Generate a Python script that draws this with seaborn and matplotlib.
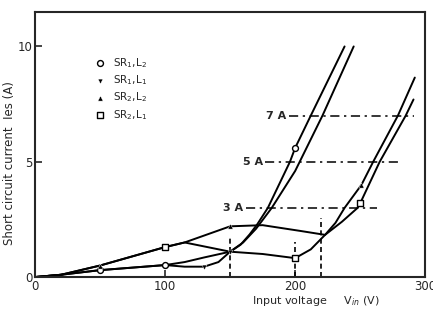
import numpy as np
import pandas as pd
import matplotlib
matplotlib.use("Agg")
import matplotlib.pyplot as plt
import seaborn as sns

# curve data (V, A)
sr2_upper_v = [0, 20, 50, 100, 115, 150, 175, 204, 223, 231, 238, 251, 260, 279, 292]
sr2_upper_i = [0, 0.1, 0.5, 1.3, 1.5, 2.2, 2.25, 2.0, 1.83, 2.35, 3.0, 4.0, 5.0, 7.0, 8.65]
sr2_lower_v = [0, 20, 50, 100, 115, 130, 150, 175, 200, 212, 223, 236, 248, 250, 265, 285, 291]
sr2_lower_i = [0, 0.1, 0.3, 0.52, 0.65, 0.85, 1.1, 1.0, 0.82, 1.2, 1.83, 2.4, 3.0, 3.2, 5.0, 7.0, 7.7]
sr1_upper_v = [0, 20, 50, 100, 115, 150, 158, 165, 171, 179, 196, 200, 212, 238]
sr1_upper_i = [0, 0.1, 0.5, 1.3, 1.5, 1.1, 1.4, 1.85, 2.3, 3.0, 5.0, 5.6, 7.0, 10.0]
sr1_lower_v = [0, 20, 50, 100, 115, 130, 141, 150, 160, 170, 182, 200, 221, 245]
sr1_lower_i = [0, 0.1, 0.3, 0.52, 0.45, 0.45, 0.65, 1.1, 1.5, 2.1, 3.0, 4.6, 7.0, 10.0]

# measured points (markers)
m_sr1l2_v = [50, 100, 200]
m_sr1l2_i = [0.3, 0.52, 5.6]
m_sr1l1_v = [130, 150]
m_sr1l1_i = [0.45, 1.1]
m_sr2l2_v = [50, 150, 251]
m_sr2l2_i = [0.5, 2.2, 4.0]
m_sr2l1_v = [100, 200, 250]
m_sr2l1_i = [1.3, 0.82, 3.2]

# limit lines
limit_labels = ["3 A", "5 A", "7 A"]
limit_i = [3, 5, 7]
limit_v0 = [162, 177, 195]
limit_v1 = [263, 281, 291]
vline_v = [150, 200, 220]
vline_top = [1.8, 1.5, 2.56]

sns.set_style("ticks")
plt.rcParams["font.family"] = ["DejaVu Sans"]

fig = plt.figure(figsize=(4.33, 3.12), dpi=100)
ax = fig.add_axes([0.081, 0.112, 0.901, 0.85])

for vv, ii in [(sr2_upper_v, sr2_upper_i), (sr2_lower_v, sr2_lower_i),
               (sr1_upper_v, sr1_upper_i), (sr1_lower_v, sr1_lower_i)]:
    sns.lineplot(x=vv, y=ii, sort=False, color="black", lw=1.4, ax=ax)

sns.scatterplot(x=m_sr1l2_v, y=m_sr1l2_i, marker="o", s=18, facecolor="white",
                edgecolor="black", linewidth=1, ax=ax, label="SR$_1$,L$_2$", zorder=5)
sns.scatterplot(x=m_sr1l1_v, y=m_sr1l1_i, marker="v", s=12, color="black",
                ax=ax, label="SR$_1$,L$_1$", zorder=5)
sns.scatterplot(x=m_sr2l2_v, y=m_sr2l2_i, marker="^", s=14, color="black",
                ax=ax, label="SR$_2$,L$_2$", zorder=5)
sns.scatterplot(x=m_sr2l1_v, y=m_sr2l1_i, marker="s", s=14, facecolor="white",
                edgecolor="black", linewidth=1, ax=ax, label="SR$_2$,L$_1$", zorder=5)

for lab, yi, a, b in zip(limit_labels, limit_i, limit_v0, limit_v1):
    ax.plot([a, b], [yi, yi], color="black", lw=1.1, ls=(0, (6, 3, 1.5, 3)))
    ax.text(a - 2, yi, lab, ha="right", va="center", fontsize=8, fontweight="bold")

for xv, top in zip(vline_v, vline_top):
    ax.plot([xv, xv], [0, top], color="black", lw=1.2, ls=(0, (3, 2)))

ax.set_xlim(0, 300)
ax.set_ylim(0, 11.5)
ax.set_xticks([0, 100, 200, 300])
ax.set_yticks([0, 5, 10])
ax.tick_params(direction="in", length=5, width=1.2, labelsize=8.5, pad=2)
for sp in ax.spines.values():
    sp.set_linewidth(1.5)
    sp.set_visible(True)

ax.set_ylabel("Short circuit current  Ies (A)", fontsize=8.5)
ax.yaxis.set_label_coords(-0.05, 0.43)
ax.set_xlabel("Input voltage     V$_{in}$ (V)", fontsize=8)
ax.xaxis.set_label_coords(0.72, -0.065)

leg = ax.legend(loc="upper left", bbox_to_anchor=(0.13, 0.85), frameon=False,
                fontsize=7.5, handletextpad=0.2, labelspacing=0.35, borderaxespad=0)

fig.savefig("out.png", dpi=100)
